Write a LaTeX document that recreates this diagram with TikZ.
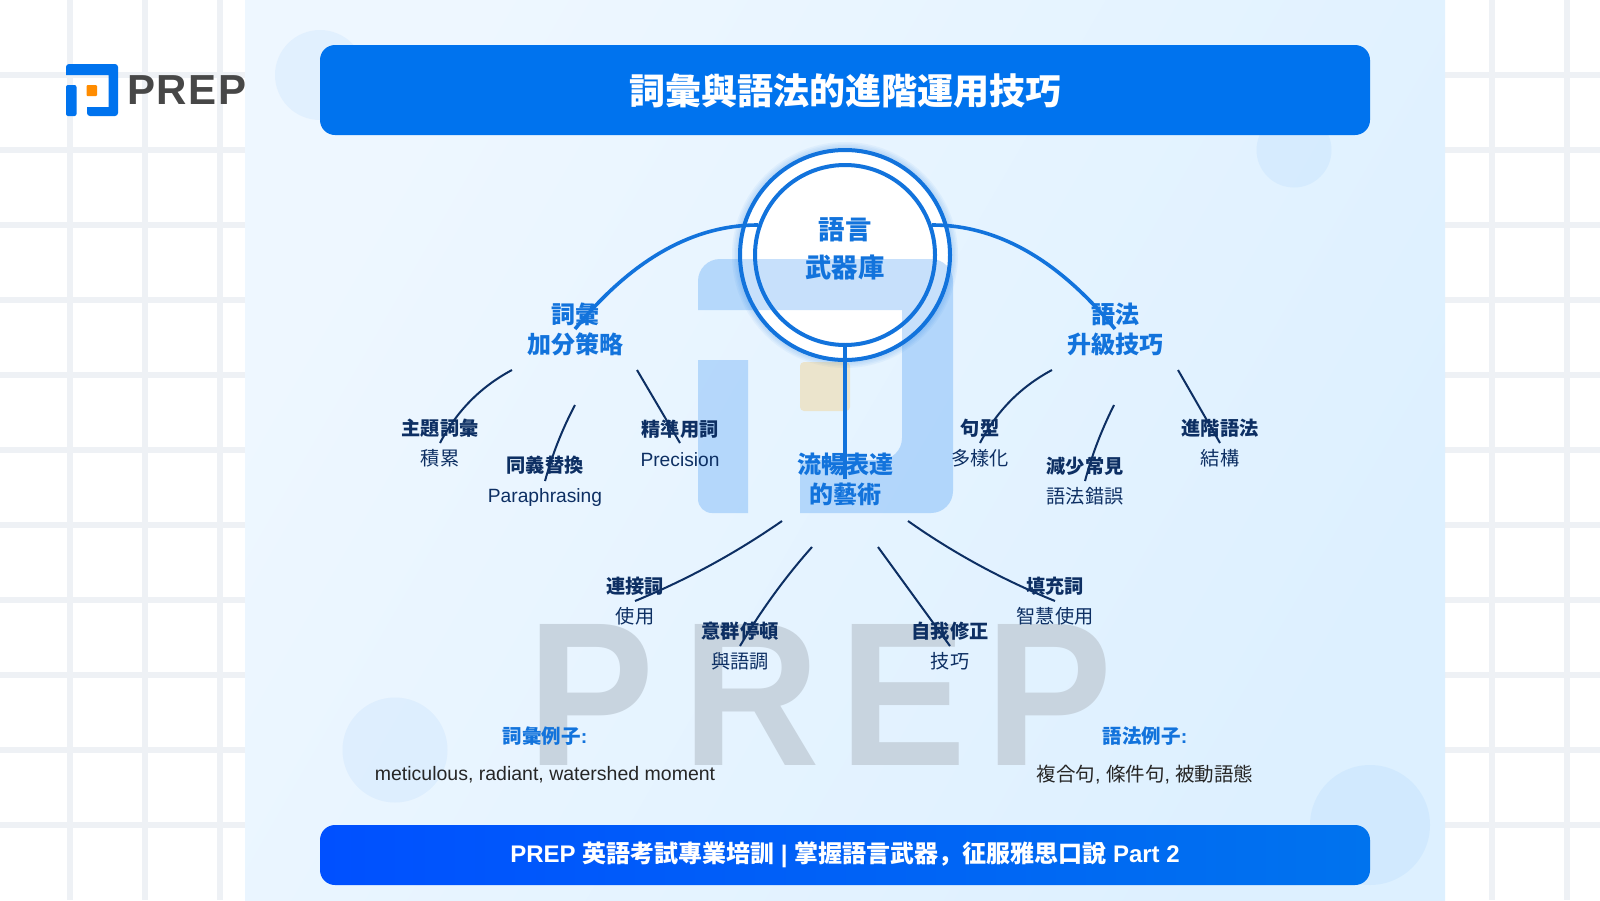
\documentclass[tikz,border=0pt]{standalone}
\usepackage{fontspec}
\usepackage{xcolor}
\setmainfont{Liberation Sans}
\newfontfamily\cjk{Noto Sans CJK JP}
\newfontfamily\markfont[FakeStretch=.93]{Liberation Sans}
\newfontfamily\brandfont[LetterSpace=4]{Liberation Sans}
\definecolor{prepblue}{HTML}{0073EE}
\definecolor{barleft}{HTML}{0050FF}
\definecolor{hubblue}{HTML}{1273DC}
\definecolor{navy}{HTML}{0D2F63}
\definecolor{gridgrey}{HTML}{EEF1F5}
\definecolor{panellight}{HTML}{EEF7FF}
\definecolor{paneldark}{HTML}{DDF0FF}
\definecolor{markgrey}{HTML}{C8D4DF}
\tikzset{
    bar-text/.style = {text=white, font=\bfseries},
    panel-dot/.style = {fill=prepblue, opacity=.05},
    hub-label/.style = {text=hubblue, font=\cjk\bfseries\fontsize{26.4}{38}\selectfont, align=center},
    branch-label/.style = {text=hubblue, font=\cjk\bfseries\fontsize{24}{30}\selectfont, align=center},
    leaf-label/.style = {text=navy, font=\fontsize{19.2}{30}\selectfont, align=center},
    example-head/.style = {text=hubblue, font=\bfseries\fontsize{19.5}{24}\selectfont},
    example-text/.style = {text=black!85, font=\fontsize{19.5}{24}\selectfont},
    trunk/.style = {draw=hubblue, line width=3.6pt},
    twig/.style = {draw=navy, line width=2pt},
}

\begin{document}
\begin{tikzpicture}[x=1pt, y=-1pt]
\useasboundingbox (0,0) rectangle (1600,900);
% page and grid
\fill[white] (0,0) rectangle (1600,900);
\foreach \gx in {70,145,220,1492,1567}
    \fill[gridgrey] (\gx-3,0) rectangle (\gx+3,900);
\foreach \gy in {75,150,...,825}
    \fill[gridgrey] (0,\gy-3) rectangle (1600,\gy+3);
% panel
\shade[left color=panellight, right color=paneldark, shading angle=60] (245,0) rectangle (1445,900);
\fill[panel-dot] (320,75) circle (45);
\fill[panel-dot] (1294,150) circle (37.5);
\fill[panel-dot] (395,750) circle (52.5);
\fill[panel-dot] (1370,825) circle (60);
% big watermark text
\foreach \letter/\lx in {P/527,R/682,E/839,P/985}
    \node[text=markgrey, inner sep=0pt, anchor=base west] (mark\lx) at (\lx,765) {\markfont\bfseries\fontsize{205}{205}\selectfont \letter};
% hub disk below the faint logo
\foreach \glow in {16,13,10,7}
    \draw[hubblue, opacity=.05, line width=\glow pt] (845,255) circle (105);
\fill[white] (845,255) circle (105);
% faint logo
\begin{scope}[opacity=.22]
\fill[prepblue] (698,310) [rounded corners=22pt] -- (698,259) -- (953,259) -- (953,513) [sharp corners] -- (800,513) -- (800,460) [rounded corners=22pt] -- (902,460) [sharp corners] -- (902,310) -- cycle;
\fill[prepblue] (748,360) -- (698,360) [rounded corners=14pt] -- (698,513) [sharp corners] -- (748,513) -- cycle;
\end{scope}
\fill[orange!70!yellow, opacity=.2, rounded corners=4pt] (800,362) rectangle (850,411);
% logo
\fill[prepblue, rounded corners=3pt] (66,75) -- (66,64) -- (118,64) -- (118,116) -- (87,116) [sharp corners] -- (87,107) -- (108.5,107) -- (108.5,75) -- cycle;
\fill[prepblue, rounded corners=2pt] (66,85) -- (76.5,85) -- (76.5,116) -- (66,116) -- cycle;
\fill[orange!90!yellow, rounded corners=1pt] (86.5,85) rectangle (97,96);
\node[text=black!72, anchor=west, inner sep=0pt] (brand) at (127,90) {\brandfont\bfseries\fontsize{42}{42}\selectfont PREP};
% bars
\fill[prepblue, rounded corners=15pt] (320,45) rectangle (1370,135);
\shade[left color=barleft, right color=prepblue, rounded corners=15pt] (320,825) rectangle (1370,885);
\node[bar-text] (title) at (845,91) {\cjk\bfseries\fontsize{36}{36}\selectfont 詞彙與語法的進階運用技巧};
\node[bar-text] (footer) at (845,855) {\fontsize{24}{24}\selectfont PREP {\cjk\bfseries 英語考試專業培訓} | {\cjk\bfseries 掌握語言武器，征服雅思口說} Part 2};
% hub
\node[circle, draw=hubblue, line width=4pt, minimum size=210pt, inner sep=0pt] (hubouter) at (845,255) {};
\node[circle, draw=hubblue, line width=4pt, minimum size=180pt, inner sep=0pt] (hub) at (845,255) {};
\node[hub-label] (hubtext) at (845,249) {語言\\武器庫};
% branches
\node[branch-label] (vocab) at (575,329) {詞彙\\加分策略};
\node[branch-label] (grammar) at (1115,329) {語法\\升級技巧};
\node[branch-label] (fluency) at (845,479) {流暢表達\\的藝術};
% leaves
\node[leaf-label] (topic) at (440,443) {{\cjk\bfseries 主題詞彙}\\{\cjk 積累}};
\node[leaf-label] (para) at (545,481) {{\cjk\bfseries 同義替換}\\Paraphrasing};
\node[leaf-label] (prec) at (680,443) {{\cjk\bfseries 精準用詞}\\Precision};
\node[leaf-label] (pattern) at (980,443) {{\cjk\bfseries 句型}\\{\cjk 多樣化}};
\node[leaf-label] (errors) at (1085,481) {{\cjk\bfseries 減少常見}\\{\cjk 語法錯誤}};
\node[leaf-label] (struct) at (1220,443) {{\cjk\bfseries 進階語法}\\{\cjk 結構}};
\node[leaf-label] (connect) at (635,601) {{\cjk\bfseries 連接詞}\\{\cjk 使用}};
\node[leaf-label] (pause) at (740,646) {{\cjk\bfseries 意群停頓}\\{\cjk 與語調}};
\node[leaf-label] (repair) at (950,646) {{\cjk\bfseries 自我修正}\\{\cjk 技巧}};
\node[leaf-label] (filler) at (1055,601) {{\cjk\bfseries 填充詞}\\{\cjk 智慧使用}};
% examples
\node[example-head] (vocabhead) at (545,736) {{\cjk\bfseries 詞彙例子}:};
\node[example-text] (vocabex) at (545,775) {meticulous, radiant, watershed moment};
\node[example-head] (grammarhead) at (1145,736) {{\cjk\bfseries 語法例子}:};
\node[example-text] (grammarex) at (1145,774) {{\cjk 複合句}, {\cjk 條件句}, {\cjk 被動語態}};
% free ends of the connectors
\coordinate (hubL) at (758,225);
\coordinate (hubR) at (932,225);
\coordinate (vocabA) at (512,370);
\coordinate (vocabB) at (575,405);
\coordinate (vocabC) at (637,370);
\coordinate (grammarA) at (1052,370);
\coordinate (grammarB) at (1114,405);
\coordinate (grammarC) at (1178,370);
\coordinate (fluencyA) at (782,521);
\coordinate (fluencyB) at (812,547);
\coordinate (fluencyC) at (878,547);
\coordinate (fluencyD) at (908,521);
% connectors
\draw[trunk] (hubL) .. controls (692.7,225) and (631.7,259.7) .. (vocab.center);
\draw[trunk] (hubR) .. controls (997.3,225) and (1058.3,259.7) .. (grammar.center);
\draw[trunk] (hub.south) -- (fluency.center);
\draw[twig] (vocabA) .. controls (480.7,386.7) and (456.7,411) .. (topic.center);
\draw[twig] (vocabB) .. controls (562.3,429) and (552.3,454.3) .. (para.center);
\draw[twig] (vocabC) -- (prec.center);
\draw[twig] (grammarA) .. controls (1020.7,386.7) and (996.7,411) .. (pattern.center);
\draw[twig] (grammarB) .. controls (1102,429) and (1092,454.3) .. (errors.center);
\draw[twig] (grammarC) -- (struct.center);
\draw[twig] (fluencyA) .. controls (736,553) and (687,579.7) .. (connect.center);
\draw[twig] (fluencyB) .. controls (785.3,577) and (761.3,610) .. (pause.center);
\draw[twig] (fluencyC) -- (repair.center);
\draw[twig] (fluencyD) .. controls (953.3,553) and (1002.3,579.7) .. (filler.center);
\end{tikzpicture}
\end{document}
